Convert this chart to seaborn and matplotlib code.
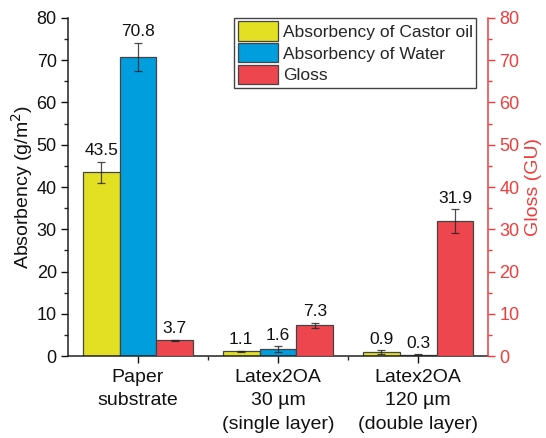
import matplotlib
matplotlib.use("Agg")
import matplotlib.pyplot as plt
from matplotlib.patches import Patch
from matplotlib.ticker import MultipleLocator, FixedLocator
import seaborn as sns
import pandas as pd

# Sample names (x tick labels)
samples = ["Paper\nsubstrate", "Latex2OA\n30 µm\n(single layer)", "Latex2OA\n120 µm\n(double layer)"]
series = ["Absorbency of Castor oil", "Absorbency of Water", "Gloss"]

# Measured means and standard deviations
castor_oil = [43.5, 1.1, 0.9]
castor_oil_sd = [2.5, 0.2, 0.5]
water = [70.8, 1.6, 0.3]
water_sd = [3.3, 0.7, 0.1]
gloss = [3.7, 7.3, 31.9]
gloss_sd = [0.2, 0.6, 2.8]

colors = ["#E3DF22", "#009EDD", "#EE464F"]
red_axis = "#F03C3C"
ink = "#111111"

rows = []
for name, vals, sds in zip(series, [castor_oil, water, gloss], [castor_oil_sd, water_sd, gloss_sd]):
    for s, v, e in zip(samples, vals, sds):
        rows.append({"sample": s, "series": name, "value": v, "sd": e})
df = pd.DataFrame(rows)

sns.set_theme(style="ticks")
plt.rcParams["font.family"] = ["Liberation Sans", "DejaVu Sans"]

fig, ax = plt.subplots(figsize=(5.46, 4.38), dpi=100)
fig.subplots_adjust(left=0.1245, right=0.894, top=0.959, bottom=0.187)
ax2 = ax.twinx()

palette = dict(zip(series, colors))
bar_kw = dict(x="sample", y="value", hue="series", hue_order=series, order=samples,
              palette=palette, errorbar=None, width=0.79, gap=0, dodge=True, legend=False,
              edgecolor="#444444", linewidth=0.9, saturation=1)

# Absorbency on the left axis, gloss on the right axis
sns.barplot(data=df[df["series"] != "Gloss"], ax=ax, **bar_kw)
sns.barplot(data=df[df["series"] == "Gloss"], ax=ax2, **bar_kw)

def filled(axis):
    return [c for c in axis.containers if len(c.patches) > 0]

def annotate(axis, container, vals, sds):
    for patch, v, e in zip(container.patches, vals, sds):
        xc = patch.get_x() + patch.get_width() / 2
        axis.errorbar(xc, v, yerr=e, fmt="none", ecolor="#222222", elinewidth=0.9,
                      capsize=3, capthick=0.9, alpha=0.8, zorder=5)
        axis.annotate(f"{v:.1f}", (xc, v + e), xytext=(0, 2.5), textcoords="offset points",
                      ha="center", va="bottom", fontsize=12.5, color=ink)

left_bars = filled(ax)
annotate(ax, left_bars[0], castor_oil, castor_oil_sd)
annotate(ax, left_bars[1], water, water_sd)
annotate(ax2, filled(ax2)[-1], gloss, gloss_sd)

for a in (ax, ax2):
    a.set_ylim(0, 80)
    a.set_xlim(-0.5, 2.5)
    a.yaxis.set_major_locator(MultipleLocator(10))
    a.yaxis.set_minor_locator(MultipleLocator(5))
    a.spines["top"].set_visible(False)
    a.set_xlabel("")

ax.set_ylabel("Absorbency (g/m$^2$)", fontsize=14, color=ink, labelpad=1)
ax2.set_ylabel("Gloss (GU)", fontsize=14, color=red_axis, labelpad=4)

ax.tick_params(axis="y", which="major", length=5, width=1, labelsize=13, colors=ink, direction="out", pad=3)
ax.tick_params(axis="y", which="minor", length=3, width=1, direction="out")
ax.set_xticks(range(len(samples)))
ax.set_xticklabels(samples, linespacing=1.5)
ax.tick_params(axis="x", which="major", length=5, width=1, labelsize=14, colors=ink, pad=4)
ax.xaxis.set_minor_locator(FixedLocator([0.5, 1.5]))
ax.tick_params(axis="x", which="minor", length=3, width=1)

ax2.tick_params(axis="y", which="major", length=5, width=1, labelsize=13, colors=red_axis, direction="out", pad=3)
ax2.tick_params(axis="y", which="minor", length=3, width=1, colors=red_axis, direction="out")
ax2.spines["right"].set_color(red_axis)
ax2.spines["right"].set_linewidth(1.1)
ax2.spines["left"].set_visible(False)
ax2.spines["bottom"].set_visible(False)
ax.spines["right"].set_visible(False)
for side in ("left", "bottom"):
    ax.spines[side].set_color("#222222")
    ax.spines[side].set_linewidth(1.1)

handles = [Patch(facecolor=c, edgecolor="#444444", linewidth=0.9) for c in colors]
leg = ax2.legend(handles, series, loc="upper right", bbox_to_anchor=(0.972, 1.0),
                 borderaxespad=0, fancybox=False, edgecolor="#444444", framealpha=1,
                 fontsize=12.5, handlelength=2.3, handleheight=1.35, handletextpad=0.3,
                 labelspacing=0.12, borderpad=0.2)
leg.get_frame().set_linewidth(1.0)

fig.savefig("out.png", dpi=100)
